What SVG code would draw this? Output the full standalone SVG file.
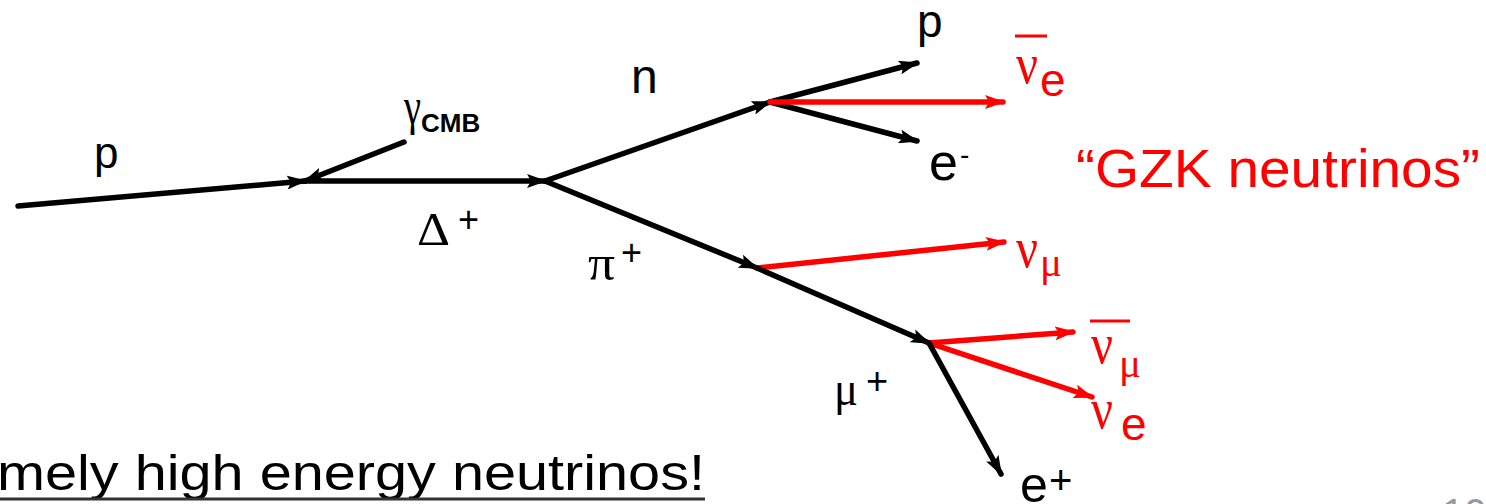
<svg xmlns="http://www.w3.org/2000/svg" width="1486" height="504" viewBox="0 0 1486 504">
<style>
.k{stroke:#000;stroke-width:5.5;fill:none;stroke-linecap:round;marker-end:url(#ak)}
.r{stroke:#f00;stroke-width:5.5;fill:none;stroke-linecap:round;marker-end:url(#ar)}
.s{font-family:"Liberation Sans",Arial,sans-serif}
.g{font-family:"Liberation Serif","Times New Roman",serif}
.bk{fill:#000}
.rd{fill:#f00}
</style>
<defs>
<marker id="ak" markerUnits="userSpaceOnUse" markerWidth="20" markerHeight="14" refX="18" refY="7" orient="auto" viewBox="0 0 20 14"><path d="M0,0 L20,7 L0,14 L4,7 z" fill="#000"/></marker>
<marker id="ar" markerUnits="userSpaceOnUse" markerWidth="20" markerHeight="14" refX="18" refY="7" orient="auto" viewBox="0 0 20 14"><path d="M0,0 L20,7 L0,14 L4,7 z" fill="#f00"/></marker>
</defs>
<g id="connectors">
<line class="k" x1="18" y1="206" x2="305" y2="181"/>
<line class="k" x1="404" y1="142" x2="305" y2="181"/>
<line class="k" x1="305" y1="181" x2="545" y2="181"/>
<line class="k" x1="545" y1="181" x2="770" y2="102"/>
<line class="k" x1="770" y1="102" x2="917" y2="63"/>
<line class="k" x1="770" y1="102" x2="917" y2="141"/>
<line class="r" x1="770" y1="102" x2="1003" y2="102"/>
<line class="k" x1="545" y1="181" x2="757" y2="268"/>
<line class="r" x1="757" y1="268" x2="1004" y2="242"/>
<line class="k" x1="757" y1="268" x2="929" y2="343"/>
<line class="r" x1="929" y1="343" x2="1073" y2="332"/>
<line class="r" x1="929" y1="343" x2="1092" y2="397"/>
<line class="k" x1="929" y1="343" x2="1001" y2="474"/>
</g>
<g id="p-in"><text class="s bk" x="94" y="168" font-size="44">p</text></g>
<g id="gamma"><text class="g bk" x="404" y="124" font-size="52" textLength="17" lengthAdjust="spacingAndGlyphs">γ</text><text class="s bk" x="421" y="132" font-weight="bold" font-size="26">CMB</text></g>
<g id="delta"><text class="g bk" x="417" y="245" font-size="46" textLength="33" lengthAdjust="spacingAndGlyphs">Δ</text><text class="s bk" x="458" y="232" font-size="36">+</text></g>
<g id="n"><text class="s bk" x="631" y="93" font-size="48">n</text></g>
<g id="p-out"><text class="s bk" x="917" y="37" font-size="46">p</text></g>
<g id="e-minus"><text class="s bk" x="929" y="180" font-size="52">e</text><text class="s bk" x="960" y="164" font-size="28">-</text></g>
<g id="nubar-e"><line x1="1015" y1="36" x2="1047" y2="36" stroke="#f00" stroke-width="3"/><text class="g rd" x="1016" y="83" font-size="56" textLength="22" lengthAdjust="spacingAndGlyphs">ν</text><text class="s rd" x="1040" y="96" font-size="46">e</text></g>
<g id="gzk"><text class="s rd" x="1076" y="187" font-size="53" textLength="404" lengthAdjust="spacingAndGlyphs">“GZK neutrinos”</text></g>
<g id="pi"><text class="g bk" x="588" y="280" font-size="50" textLength="27" lengthAdjust="spacingAndGlyphs">π</text><text class="s bk" x="621" y="265" font-size="36">+</text></g>
<g id="nu-mu"><text class="g rd" x="1016" y="267" font-size="56" textLength="22" lengthAdjust="spacingAndGlyphs">ν</text><text class="g rd" x="1040" y="276" font-size="40" textLength="22" lengthAdjust="spacingAndGlyphs">μ</text></g>
<g id="mu"><text class="g bk" x="834" y="405" font-size="48" textLength="24" lengthAdjust="spacingAndGlyphs">μ</text><text class="s bk" x="866" y="394" font-size="38">+</text></g>
<g id="nubar-mu"><line x1="1090" y1="321" x2="1130" y2="321" stroke="#f00" stroke-width="3"/><text class="g rd" x="1091" y="363" font-size="56" textLength="22" lengthAdjust="spacingAndGlyphs">ν</text><text class="g rd" x="1119" y="377" font-size="40" textLength="22" lengthAdjust="spacingAndGlyphs">μ</text></g>
<g id="nu-e"><text class="g rd" x="1091" y="428" font-size="56" textLength="22" lengthAdjust="spacingAndGlyphs">ν</text><text class="s rd" x="1121" y="440" font-size="46">e</text></g>
<g id="e-plus"><text class="s bk" x="1020" y="502" font-size="50">e</text><text class="s bk" x="1049" y="494" font-size="40">+</text></g>
<g id="caption"><text class="s bk" x="-3" y="490" font-size="50" textLength="708" lengthAdjust="spacingAndGlyphs">mely high energy neutrinos!</text><line x1="0" y1="499" x2="705" y2="499" stroke="#333" stroke-width="3"/></g>
<g id="page"><text class="s" fill="#999" x="1442" y="527" font-size="40">10</text></g>
</svg>
